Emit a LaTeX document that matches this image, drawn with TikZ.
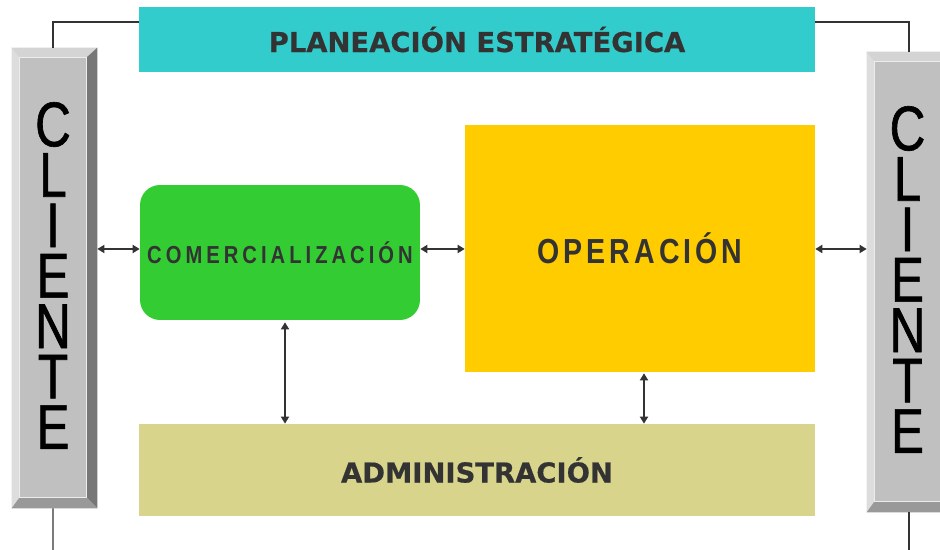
\documentclass[tikz,border=0pt]{standalone}
\usepackage{fontspec}
\setmainfont{Liberation Sans}
\newfontfamily\titulofont{DejaVu Sans}[FakeBold=0.6]
\newfontfamily\espaciada{Liberation Sans}[LetterSpace=20]
\newfontfamily\espaciadab{Liberation Sans}[LetterSpace=14]
\newfontfamily\clientefont{Liberation Sans}[FakeStretch=0.78,FakeBold=1]
\usetikzlibrary{calc,arrows.meta}

\definecolor{turquesa}{HTML}{33CCCC}
\definecolor{verde}{HTML}{33CC33}
\definecolor{amarillo}{HTML}{FFCC00}
\definecolor{caqui}{HTML}{D8D48C}
\definecolor{texto}{HTML}{333333}
\definecolor{cara}{HTML}{C0C0C0}
\definecolor{biselsup}{HTML}{D4D4D4}
\definecolor{biselizq}{HTML}{DDDDDD}
\definecolor{biselder}{HTML}{777777}
\definecolor{biselinf}{HTML}{999999}

\begin{document}
\begin{tikzpicture}[x=0.02cm,y=-0.02cm,
    caja/.style={rectangle,inner sep=0pt,text=texto},
    titulo/.style={font=\titulofont\bfseries\fontsize{15.6}{18}\selectfont},
    flecha/.style={{Triangle[length=1.4mm,width=1.6mm]}-{Triangle[length=1.4mm,width=1.6mm]},draw=texto,line width=1pt},
    linea/.style={draw=texto,line width=0.7pt},
    letras/.style={inner sep=0pt,align=center,font=\clientefont\fontsize{36}{28.7}\selectfont}]
\useasboundingbox[fill=white] (0,0) rectangle (940,550);

% bloques
\node[caja,titulo,fill=turquesa,minimum width=13.52cm,minimum height=1.3cm] (plan) at (477,39.5) {PLANEACIÓN ESTRATÉGICA};
\node[caja,fill=verde,rounded corners=0.4cm,minimum width=5.6cm,minimum height=2.7cm,
      font=\espaciada\bfseries\fontsize{14}{16}\selectfont] (com) at (280,252.5) {\scalebox{0.82}[1]{COMERCIALIZACIÓN}};
\node[caja,fill=amarillo,minimum width=7cm,minimum height=4.94cm,
      font=\espaciadab\bfseries\fontsize{19.8}{22}\selectfont] (oper) at (640,248.5) {\scalebox{0.82}[1]{OPERACIÓN}};
\node[caja,titulo,fill=caqui,minimum width=13.52cm,minimum height=1.84cm] (admin) at (477,470) {ADMINISTRACIÓN};

% clientes
\node[caja,fill=cara,minimum width=1.7cm,minimum height=9.2cm] (cliL) at (54.5,278) {};
\node[caja,fill=cara,minimum width=1.68cm,minimum height=9.2cm] (cliR) at (909,282) {};
\foreach \c in {cliL,cliR}{
  \fill[biselsup] (\c.north west) -- (\c.north east) -- ([shift={(-11,10)}]\c.north east) -- ([shift={(8,10)}]\c.north west) -- cycle;
  \fill[biselizq] (\c.north west) -- ([shift={(8,10)}]\c.north west) -- ([shift={(8,-11)}]\c.south west) -- (\c.south west) -- cycle;
  \fill[biselder] (\c.north east) -- ([shift={(-11,10)}]\c.north east) -- ([shift={(-11,-11)}]\c.south east) -- (\c.south east) -- cycle;
  \fill[biselinf] (\c.south west) -- ([shift={(8,-11)}]\c.south west) -- ([shift={(-11,-11)}]\c.south east) -- (\c.south east) -- cycle;
  \draw[white!70!cara,line width=0.5pt] ([shift={(8,10)}]\c.north west) rectangle ([shift={(-11,-11)}]\c.south east);
  \node[letras] (\c-txt) at ([shift={(-1.5,-2.5)}]\c.center) {C\\L\\I\\E\\N\\T\\E};
}

% conexiones
\coordinate (eje) at (0,249);
\coordinate (v1) at (285,0);
\coordinate (v2) at (644,0);
\coordinate (finL) at (53,550);
\coordinate (finR) at (909,550);
\draw[linea] ([xshift=-0.03cm]cliL.north) |- ([yshift=0.35cm]plan.west);
\draw[linea] (cliR.north) |- ([yshift=0.35cm]plan.east);
\draw[linea] ([xshift=-0.03cm]cliL.south) -- (finL);
\draw[linea] (cliR.south) -- (finR);

\draw[flecha] (cliL.east |- eje) -- (com.west |- eje);
\draw[flecha] (com.east |- eje) -- (oper.west |- eje);
\draw[flecha] (oper.east |- eje) -- (cliR.west |- eje);
\draw[flecha] ([yshift=-0.04cm]com.south -| v1) -- (admin.north -| v1);
\draw[flecha] ([yshift=-0.02cm]oper.south -| v2) -- (admin.north -| v2);
\end{tikzpicture}
\end{document}
